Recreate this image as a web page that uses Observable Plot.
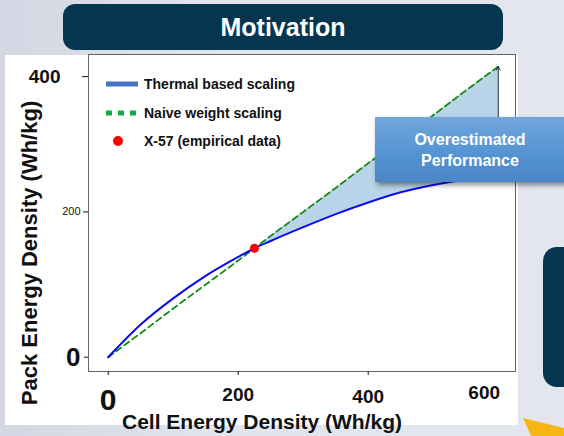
<!DOCTYPE html>
<html>
<head>
<meta charset="utf-8">
<script src="https://cdn.jsdelivr.net/npm/d3@7"></script>
<script src="https://cdn.jsdelivr.net/npm/@observablehq/plot@0.6"></script>
<style>
  html, body { margin: 0; padding: 0; }
  body {
    width: 564px; height: 436px; overflow: hidden; position: relative;
    background: linear-gradient(90deg, #d3d7e3 0%, #e2e5ee 40%, #e4e6ee 100%);
    font-family: "Liberation Sans", Arial, sans-serif;
  }
  #header {
    position: absolute; left: 63px; top: 4px; width: 440px; height: 46px;
    background: #06354f; border-radius: 12px; color: #fff;
    font: bold 25px "Liberation Sans", Arial, sans-serif;
    display: flex; align-items: center; justify-content: center;
  }
  #panel { position: absolute; left: 5px; top: 55px; width: 513px; height: 370px; background: #fff; }
  #navybox { position: absolute; left: 543px; top: 247px; width: 60px; height: 140px; background: #06354f; border-radius: 14px; }
  #yellow { position: absolute; left: 523px; top: 418px; width: 41px; height: 18px; background: #f5b614;
    clip-path: polygon(0 0, 100% 55%, 100% 100%, 20% 100%); }
  #chart { position: absolute; left: 0; top: 0; }
  #chart svg { background: transparent !important; overflow: visible; }
  #legend { position: absolute; left: 104px; top: 70px; font: bold 14px "Liberation Sans", Arial, sans-serif; color: #111; }
  #legend .row { height: 28.5px; display: flex; align-items: center; }
  #legend svg { width: 36px; height: 12px; margin-right: 4px; }
  #callout {
    position: absolute; left: 375px; top: 117px; width: 220px; height: 65px;
    background: linear-gradient(180deg, #70a7dc 0%, #5592d2 60%, #4a86c8 100%);
    box-shadow: 2px 3px 5px rgba(0,0,0,0.45);
  }
  #callout div {
    position: absolute; left: 0; top: 0; width: 190px; height: 65px; color: #fff;
    font: bold 16px "Liberation Sans", Arial, sans-serif; line-height: 21px;
    display: flex; align-items: center; justify-content: center; text-align: center;
  }
</style>
</head>
<body>
<div id="panel"></div>
<div id="header">Motivation</div>
<div id="navybox"></div>
<div id="yellow"></div>
<div id="chart"></div>
<div id="legend"></div>
<div id="callout"><div>Overestimated<br>Performance</div></div>
<script>
// ---- data ----
const cellDensity  = [0, 50, 100, 150, 200, 225, 250, 300, 350, 400, 450, 500, 550, 600];
const thermalPack  = [0, 45, 81, 112, 138, 150, 160, 179, 197, 213, 227, 237, 245, 252];
const naivePack    = [0, 33, 67, 100, 133, 150, 167, 200, 233, 267, 300, 333, 367, 400];
const x57Cell = [225];
const x57Pack = [150];
const shadeFrom = 225;
const arrowCell = 600;

const legendLabels = ["Thermal based scaling", "Naive weight scaling", "X-57 (empirical data)"];
const xTitle = "Cell Energy Density (Wh/kg)";
const yTitle = "Pack Energy Density (Wh/kg)";
const yTicksBig = [400];
const yTicksSmall = [200];
const yTicksZero = [0];
const xTickZero = [0];
const xTick200 = [200];
const xTick400 = [400];
const xTickLast = [600];

const rows = cellDensity.map((c, i) => ({cell: c, thermal: thermalPack[i], naive: naivePack[i]}));
const shaded = rows.filter(d => d.cell >= shadeFrom);
const last = rows.find(d => d.cell === arrowCell);
const x57 = x57Cell.map((c, i) => ({cell: c, pack: x57Pack[i]}));

const sans = "'Liberation Sans', Arial, sans-serif";

const chart = Plot.plot({
  width: 564,
  height: 436,
  marginLeft: 88,
  marginRight: 49,
  marginTop: 54,
  marginBottom: 65,
  style: {background: "transparent", fontFamily: sans, color: "#111"},
  x: {domain: [-30.3, 626.6], axis: null},
  y: {domain: [-19.7, 416.7], axis: null},
  marks: [
    Plot.frame({stroke: "#666", strokeWidth: 1}),
    Plot.areaY(shaded, {x: "cell", y1: "thermal", y2: "naive", fill: "#b9d4e8", curve: "monotone-x"}),
    Plot.line(rows, {x: "cell", y: "naive", stroke: "#168a16", strokeWidth: 1.8, strokeDasharray: "6,4"}),
    Plot.line(rows, {x: "cell", y: "thermal", stroke: "#0a0af5", strokeWidth: 2, curve: "monotone-x"}),
    Plot.arrow([last], {x: "cell", y1: "thermal", y2: "naive", stroke: "#222", strokeWidth: 1, headLength: 6}),
    Plot.dot(x57, {x: "cell", y: "pack", r: 4.5, fill: "#ff0000", stroke: "none"}),
    // y axis pieces
    Plot.axisY(yTicksBig, {anchor: "left", tickSize: 6, tickPadding: 22, fontSize: 19, fontWeight: "bold", label: null, tickFormat: d => d, dy: 10}),
    Plot.axisY(yTicksSmall, {anchor: "left", tickSize: 5, tickPadding: 3, fontSize: 11, label: null, tickFormat: d => d}),
    Plot.axisY(yTicksZero, {anchor: "left", tickSize: 4, tickPadding: 4, fontSize: 26, fontWeight: "bold", label: null, tickFormat: d => d}),
    // x axis pieces
    Plot.axisX(xTickZero, {anchor: "bottom", tickSize: 4, tickPadding: 13, fontSize: 30, fontWeight: "bold", label: null, tickFormat: d => d}),
    Plot.axisX(xTick200, {anchor: "bottom", tickSize: 4, tickPadding: 12, fontSize: 19, fontWeight: "bold", label: null, tickFormat: d => d}),
    Plot.axisX(xTick400, {anchor: "bottom", tickSize: 4, tickPadding: 14, fontSize: 19, fontWeight: "bold", label: null, tickFormat: d => d}),
    Plot.axisX(xTickLast, {anchor: "bottom", tickSize: 0, tickPadding: 14, fontSize: 19, fontWeight: "bold", label: null, tickFormat: d => d, dx: -14}),
    // axis titles
    Plot.text([xTitle], {frameAnchor: "bottom", textAnchor: "middle", lineAnchor: "middle", text: d => d, dx: -40, dy: 51, fontSize: 21, fontWeight: "bold", fill: "#111"}),
    Plot.text([yTitle], {frameAnchor: "left", textAnchor: "middle", lineAnchor: "middle", text: d => d, rotate: -90, dx: -59, dy: 40, fontSize: 22, fontWeight: "bold", fill: "#111"})
  ]
});
document.getElementById("chart").appendChild(chart);

// legend
const legend = d3.select("#legend");
const swatches = [
  s => s.append("line").attr("x1", 2).attr("x2", 34).attr("y1", 6).attr("y2", 6).attr("stroke", "#4472c4").attr("stroke-width", 5),
  s => s.append("line").attr("x1", 2).attr("x2", 34).attr("y1", 6).attr("y2", 6).attr("stroke", "#19a843").attr("stroke-width", 5).attr("stroke-dasharray", "6,6"),
  s => s.append("circle").attr("cx", 14).attr("cy", 6).attr("r", 5).attr("fill", "#ff0000")
];
legendLabels.forEach((lab, i) => {
  const row = legend.append("div").attr("class", "row");
  const sv = row.append("svg").attr("viewBox", "0 0 36 12");
  swatches[i](sv);
  row.append("span").text(lab);
});
</script>
</body>
</html>
